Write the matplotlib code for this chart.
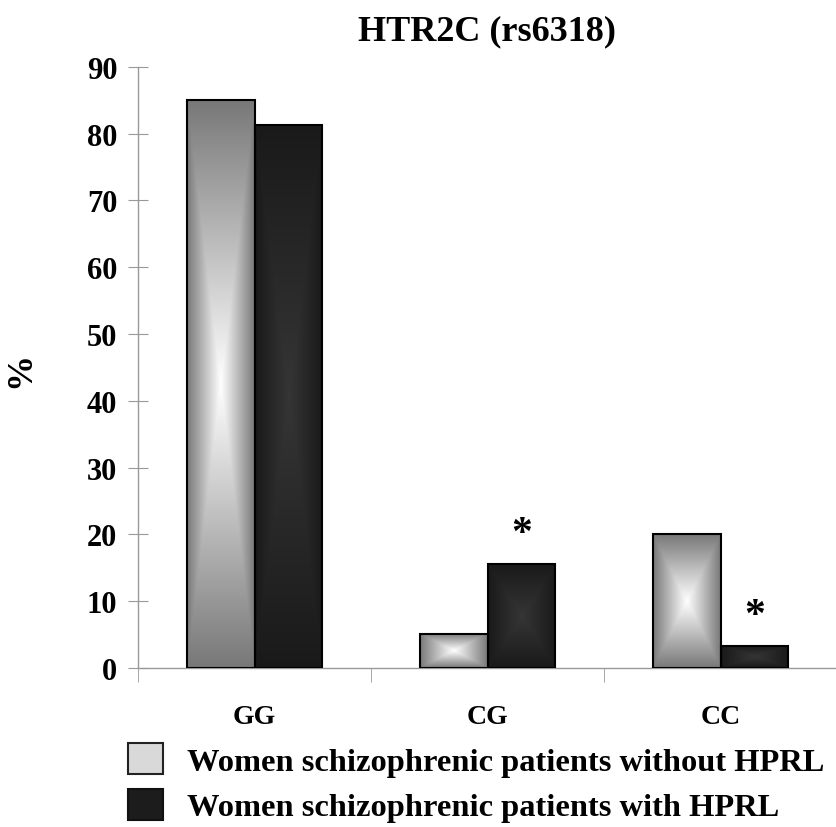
import matplotlib.pyplot as plt
import numpy as np
from matplotlib.patches import Patch

# genotype frequencies (%)
genotypes = ['GG', 'CG', 'CC']
without_hprl = [85.1, 5.1, 20.0]
with_hprl = [81.3, 15.5, 3.3]
significant = [False, True, True]   # asterisk over the "with HPRL" bar

series_labels = ['Women schizophrenic patients without HPRL',
                 'Women schizophrenic patients with HPRL']

plt.rcParams['font.family'] = ['Liberation Serif', 'DejaVu Serif']
plt.rcParams['font.weight'] = 'bold'


def box_gradient(edge, center, n=200):
    """Rectangular (box) gradient: center colour in the middle, edge colour at borders."""
    u = np.linspace(-1, 1, n)
    U, V = np.meshgrid(u, u)
    t = np.maximum(np.abs(U), np.abs(V))
    edge = np.array(edge)
    center = np.array(center)
    return center + (edge - center) * t[..., None]


def fill_bars(ax, bars, edge, center):
    img = box_gradient(edge, center)
    for b in bars:
        x0, y0 = b.get_x(), b.get_y()
        w, h = b.get_width(), b.get_height()
        im = ax.imshow(img, extent=(x0, x0 + w, y0, y0 + h), aspect='auto',
                       interpolation='bilinear', zorder=2)
        im.set_clip_path(b)


fig = plt.figure(figsize=(8.37, 8.28), dpi=100)
ax = fig.add_axes([0.165, 0.192, 0.835, 0.726])

x = np.arange(len(genotypes))
w = 0.29
bars1 = ax.bar(x - w / 2, without_hprl, w, facecolor='none', edgecolor='black',
               linewidth=1.5, zorder=3)
bars2 = ax.bar(x + w / 2, with_hprl, w, facecolor='none', edgecolor='black',
               linewidth=1.5, zorder=3)
fill_bars(ax, bars1, (0.47, 0.47, 0.47), (1.0, 1.0, 1.0))
fill_bars(ax, bars2, (0.10, 0.10, 0.10), (0.21, 0.21, 0.21))

for xi, v, sig in zip(x, with_hprl, significant):
    if sig:
        ax.text(xi + w / 2, v + 3.0, '*', ha='center', va='baseline',
                fontsize=30, fontweight='bold')

ax.set_xlim(-0.5, 2.5)
ax.set_ylim(0, 90)
ax.set_yticks(range(0, 91, 10))
ax.set_xticks(x)
ax.set_xticklabels(genotypes)
ax.set_xticks([-0.5, 0.5, 1.5, 2.5], minor=True)
ax.tick_params(axis='x', which='major', length=0, pad=26, labelsize=20)
ax.tick_params(axis='x', which='minor', length=10, color='#999999', direction='out')
ax.tick_params(axis='y', length=14, color='#999999', direction='inout', pad=8,
               labelsize=22)

for s in ['top', 'right']:
    ax.spines[s].set_visible(False)
for s in ['left', 'bottom']:
    ax.spines[s].set_color('#999999')
    ax.spines[s].set_linewidth(1.0)

fig.text(0.025, 0.553, '%', rotation=90, ha='center', va='center',
         fontsize=26, fontweight='bold')
fig.text(0.582, 0.961, 'HTR2C (rs6318)', ha='center', va='center',
         fontsize=26, fontweight='bold')

handles = [Patch(facecolor='#d9d9d9', edgecolor='#222222', linewidth=1.5),
           Patch(facecolor='#1c1c1c', edgecolor='#111111', linewidth=1.5)]
fig.legend(handles, series_labels, loc='upper left', bbox_to_anchor=(0.153, 0.101),
           frameon=False, handlelength=1.07, handleheight=1.07,
           handletextpad=0.75, labelspacing=0.38, borderaxespad=0, borderpad=0,
           prop={'weight': 'bold', 'size': 23.4})

fig.savefig('out.png', dpi=100)
